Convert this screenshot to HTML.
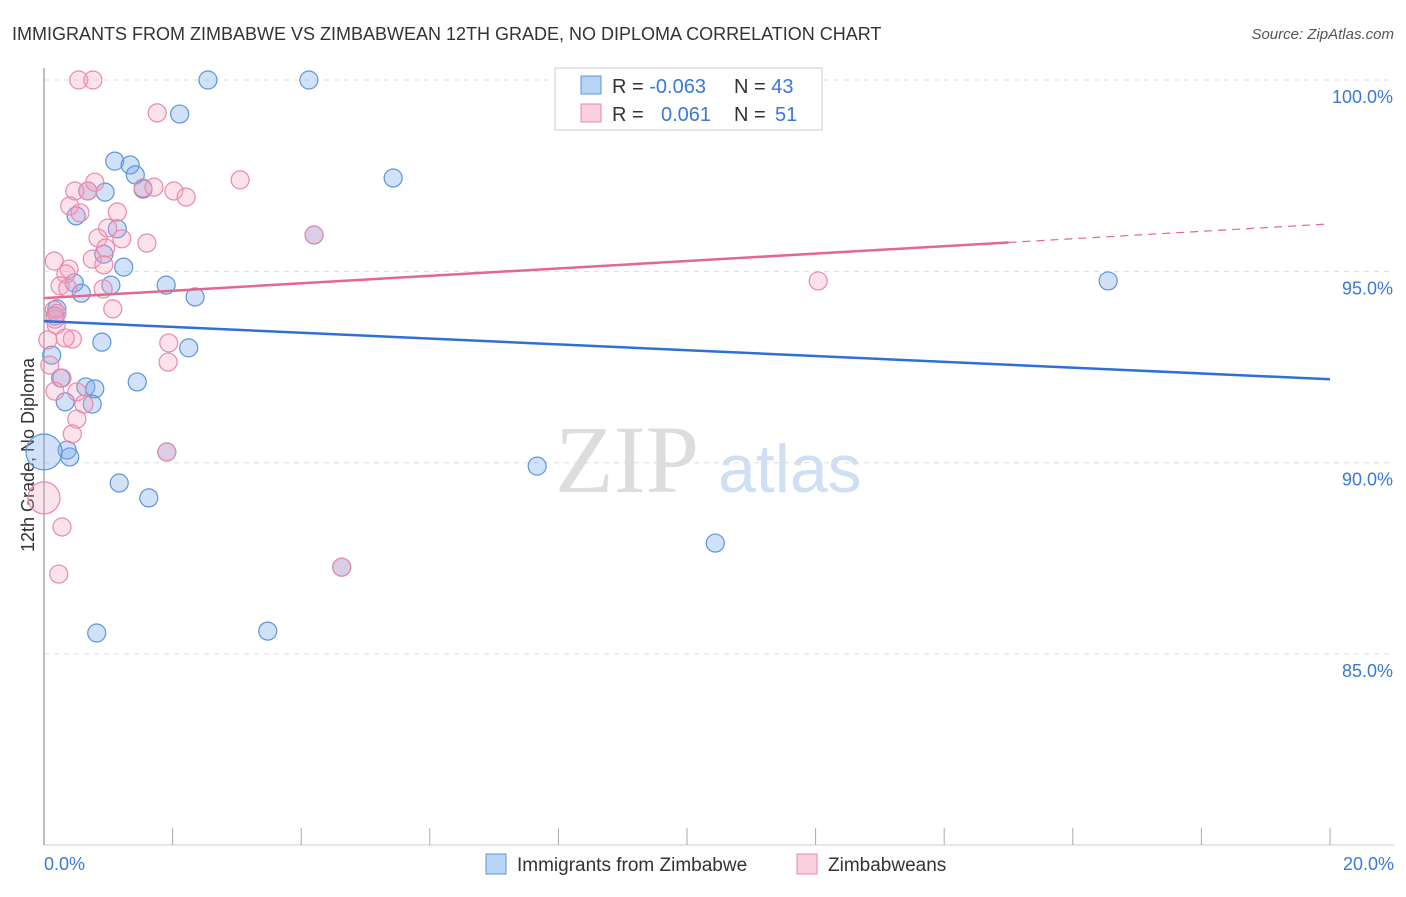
<!DOCTYPE html>
<html><head><meta charset="utf-8"><style>
body{margin:0;background:#fff;font-family:"Liberation Sans",sans-serif}
svg text{font-family:"Liberation Sans",sans-serif}
</style></head><body>
<svg width="1406" height="892" id="chart">
<text x="12" y="40" font-size="18" fill="#333">IMMIGRANTS FROM ZIMBABWE VS ZIMBABWEAN 12TH GRADE, NO DIPLOMA CORRELATION CHART</text>
<text x="1394" y="39" font-size="15" fill="#555" text-anchor="end" font-style="italic">Source: ZipAtlas.com</text>
<text transform="translate(34,455) rotate(-90)" font-size="18" fill="#333" text-anchor="middle">12th Grade, No Diploma</text>
<text x="555" y="492" font-size="96" fill="#ddd" font-family="Liberation Serif" style="font-family:'Liberation Serif',serif">ZIP</text>
<text x="718" y="492" font-size="68" fill="#cfe0f5">atlas</text>
<g id="grid"></g><g id="axes"></g><g id="pts"></g><g id="trends"></g>
<rect x="555" y="68" width="267" height="62" fill="#fff" stroke="#ccc"/>
<rect x="581" y="76" width="20" height="18" fill="#b8d4f5" stroke="#5b95dc"/>
<rect x="581" y="104" width="20" height="18" fill="#fbd0dd" stroke="#ea89aa"/>
<text x="612" y="93" font-size="20" fill="#333">R = <tspan fill="#3b78d8">-0.063</tspan>  <tspan x="734">N = </tspan><tspan fill="#3b78d8">43</tspan></text>
<text x="612" y="121" font-size="20" fill="#333">R = <tspan x="661" fill="#3b78d8">0.061</tspan><tspan x="734">N = </tspan><tspan x="775" fill="#3b78d8">51</tspan></text>
<rect x="486" y="854" width="20" height="20" fill="#b8d4f5" stroke="#5b95dc"/>
<text x="517" y="871" font-size="19" fill="#333">Immigrants from Zimbabwe</text>
<rect x="797" y="854" width="20" height="20" fill="#fbd0dd" stroke="#ea89aa"/>
<text x="828" y="871" font-size="19" fill="#333">Zimbabweans</text>
</svg>
<script>
const blueX=[2.55,4.12,2.11,1.10,1.34,1.42,5.43,0.68,0.95,1.54,0.50,1.14,4.20,0.93,1.24,16.55,0.47,1.04,1.90,0.58,2.35,0.20,0.17,0.90,2.25,0.12,0.26,1.45,0.65,0.79,0.33,0.75,0.36,0.40,0,1.91,7.67,1.17,1.63,10.44,4.63,0.82,3.48];
const blueY=[100,100,99.11,97.88,97.78,97.52,97.44,97.10,97.07,97.15,96.45,96.11,95.95,95.45,95.11,94.75,94.70,94.64,94.64,94.43,94.33,94.02,93.83,93.15,93.00,92.81,92.21,92.11,91.98,91.93,91.59,91.53,90.33,90.15,90.28,90.28,89.91,89.47,89.08,87.90,87.27,85.55,85.60];
const blueR=[9,9,9,9,9,9,9,9,9,9,9,9,9,9,9,9,9,9,9,9,9,9,9,9,9,9,9,9,9,9,9,9,9,9,18,9,9,9,9,9,9,9,9];
const pinkX=[0.54,0.76,1.76,3.05,0.48,0.79,0.68,1.54,1.71,2.02,2.21,0.40,0.56,1.14,0.99,1.21,0.84,1.60,0.96,4.20,0.16,0.75,0.93,0.39,0.34,12.04,0.25,0.37,0.92,1.07,0.16,0.19,0.44,0.33,1.94,1.93,0.06,0.09,0.28,0.17,0.51,0.62,0.51,0.44,1.91,0,0.28,0.23,4.63,0.17,0.20];
const pinkY=[100,100,99.14,97.39,97.10,97.33,97.10,97.18,97.20,97.10,96.94,96.71,96.53,96.55,96.13,95.85,95.87,95.74,95.61,95.95,95.27,95.32,95.17,95.06,94.93,94.75,94.62,94.56,94.54,94.02,93.99,93.60,93.23,93.26,93.13,92.63,93.21,92.55,92.21,91.87,91.85,91.53,91.14,90.75,90.28,89.08,88.32,87.09,87.27,93.75,93.90];
const pinkR=pinkY.map((v,i)=>i===45?16:9);
const yTicks=[100,95,90,85];
const yTickLabels=["100.0%","95.0%","90.0%","85.0%"];
const xTickLabels=["0.0%","20.0%"];
const blueTrend=[93.70,92.18];
const pinkTrend=[94.30,96.24];
const pinkSolidEnd=15;
const NS="http://www.w3.org/2000/svg";
const sx=v=>44+v/20*1286;
const sy=v=>80+(100-v)*38.27;
function mk(tag,attrs,parent){const e=document.createElementNS(NS,tag);for(const k in attrs)e.setAttribute(k,attrs[k]);document.getElementById(parent).appendChild(e);return e;}
yTicks.forEach((t,i)=>{
 const l=mk('line',{x1:44,x2:1394,y1:sy(t),y2:sy(t),stroke:'#ddd','stroke-dasharray':'5,5'},'grid');
 
 
 const tx=mk('text',{x:1393,y:sy(t)+23,'font-size':18,fill:'#3b78d8','text-anchor':'end'},'grid');
 tx.textContent=yTickLabels[i];
 
 
});
const ax=mk('line',{x1:44,x2:44,y1:68,y2:845,stroke:'#aaa','stroke-width':1.5},'axes');


const bx=mk('line',{x1:44,x2:1394,y1:845,y2:845,stroke:'#ccc'},'axes');


for(let i=0;i<=10;i++){
 const t=mk('line',{x1:sx(i*2),x2:sx(i*2),y1:828,y2:845,stroke:'#aaa'},'axes');
 
 
}
[[0,'start',44],[20,'end',1394]].forEach((a,i)=>{
 const t=mk('text',{x:a[2],y:870,'font-size':18,fill:'#3b78d8','text-anchor':a[1]},'axes');
 t.textContent=xTickLabels[i];
 
 
});
blueX.forEach((x,i)=>{
 const c=mk('circle',{cx:sx(x),cy:sy(blueY[i]),r:blueR[i],fill:'rgba(120,170,235,0.35)',stroke:'#5b95dc','stroke-width':1.2},'pts');
 
 
});
pinkX.forEach((x,i)=>{
 const c=mk('circle',{cx:sx(x),cy:sy(pinkY[i]),r:pinkR[i],fill:'rgba(245,160,190,0.3)',stroke:'#ea89aa','stroke-width':1.2},'pts');
 
 
});
const bt=mk('line',{x1:sx(0),y1:sy(blueTrend[0]),x2:sx(20),y2:sy(blueTrend[1]),stroke:'#2f6fd6','stroke-width':2.5},'trends');


const pm=pinkTrend[0]+(pinkTrend[1]-pinkTrend[0])*pinkSolidEnd/20;
const pt=mk('line',{x1:sx(0),y1:sy(pinkTrend[0]),x2:sx(pinkSolidEnd),y2:sy(pm),stroke:'#e5678f','stroke-width':2.5},'trends');


const pd=mk('line',{x1:sx(pinkSolidEnd),y1:sy(pm),x2:sx(20),y2:sy(pinkTrend[1]),stroke:'#e5678f','stroke-width':1.2,'stroke-dasharray':'8,6'},'trends');


</script>
</body></html>
